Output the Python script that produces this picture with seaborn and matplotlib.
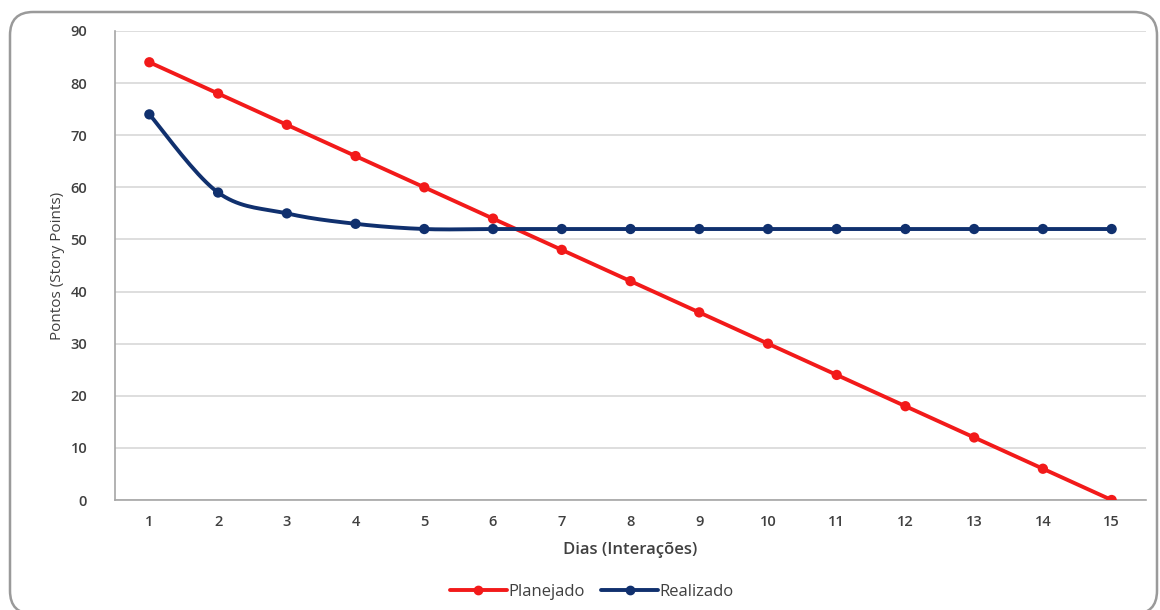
import numpy as np
import pandas as pd
import matplotlib
matplotlib.use("Agg")
import matplotlib.pyplot as plt
from matplotlib.patches import FancyBboxPatch
from matplotlib.lines import Line2D
import seaborn as sns

# ---- data ----
dias = list(range(1, 16))
planejado = [84, 78, 72, 66, 60, 54, 48, 42, 36, 30, 24, 18, 12, 6, 0]
realizado = [74, 59, 55, 53, 52, 52, 52, 52, 52, 52, 52, 52, 52, 52, 52]
y_ticks = [0, 10, 20, 30, 40, 50, 60, 70, 80, 90]
serie_nomes = ["Planejado", "Realizado"]
cores = ["#f21a1a", "#10306e"]

sns.set_theme(style="white")
plt.rcParams['font.family'] = ['Open Sans', 'DejaVu Sans']

df = pd.DataFrame({"Dias": dias * 2,
                   "Pontos": planejado + realizado,
                   "Serie": [serie_nomes[0]] * len(dias) + [serie_nomes[1]] * len(dias)})

fig = plt.figure(figsize=(11.6, 6.1), dpi=100)
W, H = 1160, 610

# outer chart frame (rounded), bottom runs off the image like the reference
frame = FancyBboxPatch((10 / W, -4 / H), (1157 - 10) / W, (598 + 4) / H,
                       boxstyle="round,pad=0,rounding_size=0.02",
                       transform=fig.transFigure, facecolor="none",
                       edgecolor="#9a9a9a", linewidth=1.8, zorder=0,
                       mutation_aspect=W / H)
fig.patches.append(frame)

ax = fig.add_axes([115 / W, (610 - 500) / H, (1146 - 115) / W, (500 - 31) / H])
ax.set_facecolor("none")
ax.set_zorder(2)


def smooth(xs, ys, n=20):
    # Catmull-Rom style smoothing like a spreadsheet "smoothed line"
    xs = np.asarray(xs, float); ys = np.asarray(ys, float)
    px = np.concatenate([[xs[0]], xs, [xs[-1]]])
    py = np.concatenate([[ys[0]], ys, [ys[-1]]])
    ox, oy = [], []
    for i in range(1, len(px) - 2):
        p0, p1, p2, p3 = (np.array([px[j], py[j]]) for j in (i - 1, i, i + 1, i + 2))
        c1 = p1 + (p2 - p0) / 6
        c2 = p2 - (p3 - p1) / 6
        t = np.linspace(0, 1, n)[:, None]
        pts = (1 - t) ** 3 * p1 + 3 * (1 - t) ** 2 * t * c1 + 3 * (1 - t) * t ** 2 * c2 + t ** 3 * p2
        ox.extend(pts[:, 0]); oy.extend(pts[:, 1])
    return ox, oy


# lines
ax.plot(dias, planejado, color=cores[0], lw=2.8, zorder=3, solid_capstyle="round")
sx, sy = smooth(dias, realizado)
ax.plot(sx, sy, color=cores[1], lw=2.8, zorder=3, solid_capstyle="round")

# markers via seaborn
sns.scatterplot(data=df, x="Dias", y="Pontos", hue="Serie", palette=cores,
                s=55, edgecolor="none", ax=ax, legend=False, zorder=4)

ax.set_xlim(0.5, 15.5)
ax.set_ylim(0, 90)
ax.set_xticks(dias)
ax.set_xticklabels([str(d) for d in dias])
ax.set_yticks(y_ticks)
ax.yaxis.grid(True, color="#d4d4d4", lw=1.1)
ax.xaxis.grid(False)
ax.set_axisbelow(True)
for s in ["top", "right"]:
    ax.spines[s].set_visible(False)
for s in ["left", "bottom"]:
    ax.spines[s].set_color("#a6a6a6")
    ax.spines[s].set_linewidth(1.2)
ax.tick_params(axis="both", length=0, labelsize=10.5, colors="#404040")
for lab in ax.get_xticklabels() + ax.get_yticklabels():
    lab.set_fontweight("semibold")
ax.tick_params(axis="x", pad=11)
ax.tick_params(axis="y", pad=20)

ax.set_xlabel("Dias (Interações)", fontsize=12, fontweight="semibold",
              color="#404040", labelpad=9)
ax.set_ylabel("Pontos (Story Points)", fontsize=11, color="#404040", labelpad=4)

handles = [Line2D([0], [0], color=c, lw=2.8, marker="o", markersize=6) for c in cores]
fig.legend(handles, serie_nomes, loc="center", bbox_to_anchor=(592 / W, (610 - 592) / H),
           ncol=2, frameon=False, fontsize=12, labelcolor="#404040",
           handlelength=3.4, handletextpad=0.1, columnspacing=1.0)

fig.savefig("out.png", dpi=100)
